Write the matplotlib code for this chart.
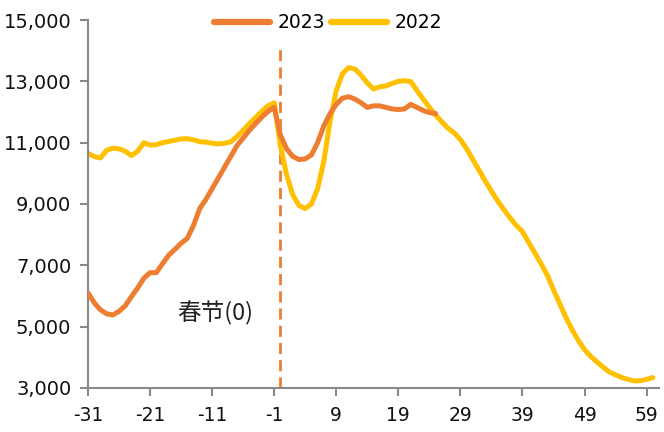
import matplotlib
matplotlib.use("Agg")
import matplotlib.pyplot as plt

days_2023 = list(range(-31, 26))
values_2023 = [6100, 5780, 5550, 5420, 5380, 5500, 5680, 5980, 6260, 6580,
               6760, 6760, 7050, 7330, 7520, 7720, 7880, 8300, 8850, 9150,
               9500, 9850, 10200, 10550, 10900, 11150, 11400, 11620, 11830, 12020,
               12150, 11250, 10800, 10550, 10450, 10470, 10600, 11000, 11550, 11950,
               12250, 12450, 12500, 12420, 12300, 12150, 12200, 12200, 12150, 12100,
               12080, 12100, 12250, 12150, 12050, 11980, 11950]

days_2022 = list(range(-31, 61))
values_2022 = [10650, 10550, 10500, 10750, 10820, 10800, 10720, 10580, 10720, 11000,
               10920, 10930, 11000, 11040, 11080, 11120, 11130, 11090, 11030, 11020,
               10980, 10960, 10980, 11030, 11200, 11400, 11620, 11820, 12020, 12200,
               12300, 10900, 9950, 9300, 8950, 8850, 9000, 9500, 10400, 11700,
               12700, 13250, 13450, 13400, 13200, 12950, 12750, 12820, 12850, 12930,
               13000, 13020, 12990, 12700, 12420, 12150, 11900, 11680, 11470, 11320,
               11100, 10800, 10450, 10100, 9750, 9420, 9100, 8820, 8550, 8300,
               8100, 7750, 7400, 7050, 6680, 6200, 5750, 5300, 4900, 4550,
               4250, 4030, 3850, 3680, 3520, 3430, 3340, 3280, 3230, 3240,
               3280, 3340]

x_ticks = list(range(-31, 60, 10))
y_ticks = list(range(3000, 15001, 2000))
label_2023 = "2023"
label_2022 = "2022"
annotation = "春节(0)"

c2023 = "#ED7D31"
c2022 = "#FFC000"
axis_gray = "#898989"

fig = plt.figure(figsize=(6.64, 4.32), dpi=100)
ax = fig.add_axes([0.1325, 0.1019, 0.86, 0.8518])

ax.plot(days_2023, values_2023, color=c2023, lw=3.6, label=label_2023,
        solid_joinstyle="round", solid_capstyle="round", zorder=3)
ax.plot(days_2022, values_2022, color=c2022, lw=3.6, label=label_2022,
        solid_joinstyle="round", solid_capstyle="round", zorder=2)

ax.plot([0, 0], [3000, 14200], color=c2023, lw=2.0, dashes=(4, 2.2), zorder=1)
ax.text(-16.6, 5450, annotation, fontsize=17, va="center", ha="left",
        family=["Noto Sans CJK SC", "DejaVu Sans"], color="#222222")

ax.set_xlim(-31, 61)
ax.set_ylim(3000, 15000)
ax.set_xticks(x_ticks)
ax.set_xticklabels([str(t) for t in x_ticks])
ax.set_yticks(y_ticks)
ax.set_yticklabels([f"{t:,}" for t in y_ticks])

for s in ["top", "right"]:
    ax.spines[s].set_visible(False)
for s in ["left", "bottom"]:
    ax.spines[s].set_color(axis_gray)
    ax.spines[s].set_linewidth(1.5)
ax.tick_params(axis="both", colors=axis_gray, width=1.5, length=6,
               labelsize=14, labelcolor="#111111", direction="out")
ax.tick_params(axis="x", labelsize=13.5, pad=7)
ax.tick_params(axis="y", pad=6)

leg = ax.legend(loc="center", bbox_to_anchor=(0.42, 0.992), ncol=2, frameon=False,
                fontsize=13.5, handlelength=3.0, handletextpad=0.4, columnspacing=0.3,
                borderaxespad=0)
for h in leg.get_lines():
    h.set_linewidth(4.5)

fig.savefig("out.png", dpi=100)
